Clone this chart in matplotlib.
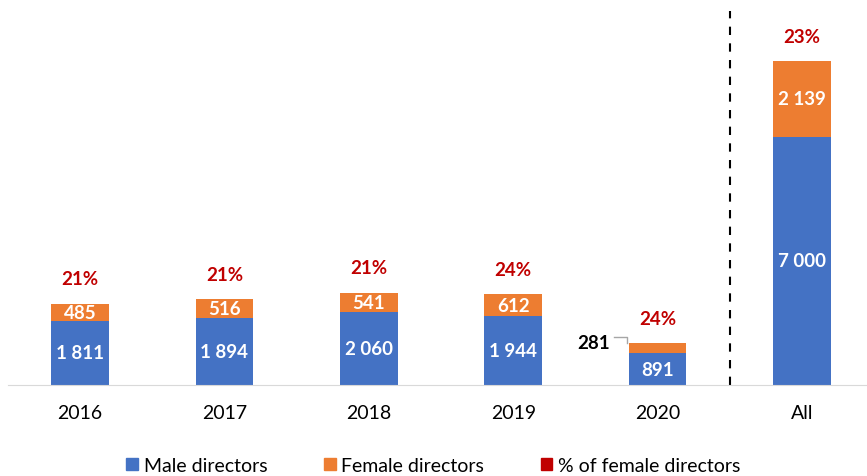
import matplotlib
matplotlib.use('Agg')
import matplotlib.pyplot as plt
from matplotlib.patches import Patch

years = ['2016', '2017', '2018', '2019', '2020', 'All']
male = [1811, 1894, 2060, 1944, 891, 7000]
female = [485, 516, 541, 612, 281, 2139]
pct_labels = ['21%', '21%', '21%', '24%', '24%', '23%']

BLUE = '#4472C4'
ORANGE = '#ED7D31'
RED = '#C00000'

plt.rcParams['font.family'] = ['Lato', 'DejaVu Sans']

fig = plt.figure(figsize=(8.67, 4.77), dpi=100)
ax = fig.add_axes([0.009, 0.191, 0.991, 0.809])

x = list(range(len(years)))
w = 0.40
ax.bar(x, male, width=w, color=BLUE)
ax.bar(x, female, width=w, bottom=male, color=ORANGE)

def fmt(v):
    return f'{v:,}'.replace(',', ' ')

for i, (m, f, p) in enumerate(zip(male, female, pct_labels)):
    ax.text(i, m / 2, fmt(m), ha='center', va='center', color='white',
            fontsize=13.5, fontweight='bold')
    if i == 4:
        # small segment: label outside with leader line
        ax.text(i - 0.33, m + f / 2 + 160, fmt(f), ha='right', va='center',
                color='black', fontsize=13.5, fontweight='bold')
        ax.plot([i - 0.30, i - 0.21, i - 0.21], [m + f + 180, m + f + 180, m + f],
                color='#A6A6A6', lw=1)
    else:
        ax.text(i, m + f / 2, fmt(f), ha='center', va='center', color='white',
                fontsize=13.5, fontweight='bold')
    ax.text(i, m + f + 700, p, ha='center', va='center', color=RED,
            fontsize=13.5, fontweight='bold')

ax.axvline(4.5, ymin=0, ymax=0.97, color='black', ls=(0, (4, 4)), lw=1.5)

ax.set_xlim(-0.5, 5.45)
ax.set_ylim(0, 10890)
ax.set_xticks(x)
ax.set_xticklabels(years, fontsize=14)
ax.tick_params(axis='x', length=0, pad=14)
ax.set_yticks([])
for s in ['top', 'right', 'left']:
    ax.spines[s].set_visible(False)
ax.spines['bottom'].set_color('#D9D9D9')

handles = [Patch(color=BLUE, label='Male directors'),
           Patch(color=ORANGE, label='Female directors'),
           Patch(color=RED, label='% of female directors')]
fig.legend(handles=handles, loc='center', bbox_to_anchor=(0.5, 0.022), ncol=3,
           frameon=False, fontsize=14, handlelength=0.6, handleheight=0.6,
           handletextpad=0.3, columnspacing=2.9)

fig.savefig('out.png', dpi=100)
